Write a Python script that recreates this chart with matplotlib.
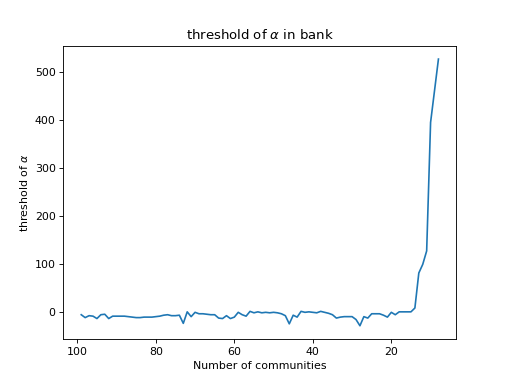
import matplotlib
matplotlib.use("Agg")
import matplotlib.pyplot as plt

communities = list(range(99, 7, -1))
threshold = [
    -5, -11, -7, -8, -13, -5, -4, -13, -8, -8,      # 99..90
    -8, -8, -9, -10, -11, -11, -10, -10, -10, -9,   # 89..80
    -8, -6, -5, -7, -7, -6, -23, 1, -9, 0,          # 79..70
    -3, -3, -4, -5, -5, -12, -13, -7, -13, -10,     # 69..60
    0, -5, -8, 2, -1, 1, -1, 0, -1, 0,              # 59..50
    -1, -3, -7, -24, -6, -10, 2, 0, 1, 0,           # 49..40
    -1, 2, 0, -2, -5, -12, -10, -9, -9, -9,         # 39..30
    -15, -28, -9, -12, -3, -3, -3, -6, -10, 0,      # 29..20
    -5, 1, 1, 1, 1, 9, 82, 100, 128, 396,           # 19..10
    462, 528,                                        # 9..8
]

dpi = 79.3
fig, ax = plt.subplots(figsize=(507 / dpi, 381 / dpi), dpi=dpi)
ax.plot(communities, threshold)
ax.invert_xaxis()
ax.set_title(r"threshold of $\alpha$ in bank")
ax.set_xlabel("Number of communities")
ax.set_ylabel(r"threshold of $\alpha$")
fig.savefig("out.png", dpi=dpi)
